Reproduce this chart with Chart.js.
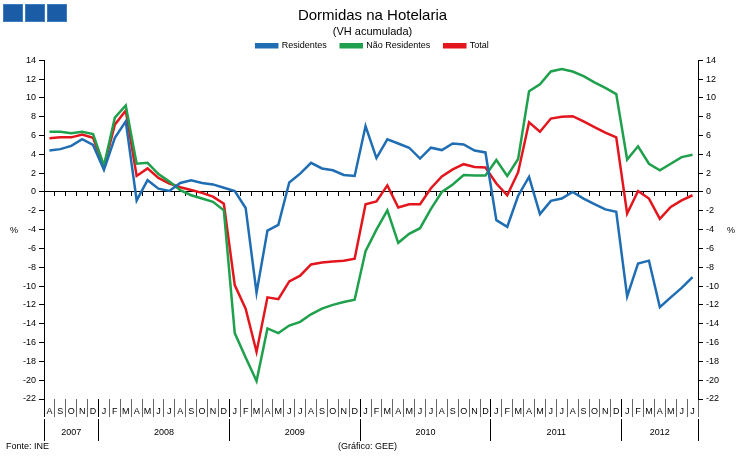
<!DOCTYPE html>
<html>
<head>
<meta charset="utf-8">
<script src="https://cdn.jsdelivr.net/npm/chart.js@4.4.1/dist/chart.umd.min.js"></script>
<style>
  html, body { margin: 0; padding: 0; background: #fff; }
  #wrap { position: relative; width: 745px; height: 457px; font-family: 'Liberation Sans', Arial, sans-serif; }
  #logo { position: absolute; left: 3px; top: 4px; font-size: 0; }
  #logo span { display: inline-block; width: 20px; height: 18px; background: #1a5ca5; margin-right: 2px; box-shadow: inset 0 0 0 1px #3f7dbf; }
  .note { position: absolute; font-size: 9px; color: #000; line-height: 10px; }
</style>
</head>
<body>
<div id="wrap">
  <canvas id="chart" width="745" height="457"></canvas>
  <div id="logo"><span></span><span></span><span></span></div>
  <div class="note" style="left:10px; top:225px;">%</div>
  <div class="note" style="left:727px; top:225px;">%</div>
  <div class="note" style="left:6px; top:441px;">Fonte: INE</div>
  <div class="note" style="left:338px; top:441px;">(Gráfico: GEE)</div>
</div>
<script>
// Aug 2007 .. Jul 2012
const months = [
  'A','S','O','N','D',
  'J','F','M','A','M','J','J','A','S','O','N','D',
  'J','F','M','A','M','J','J','A','S','O','N','D',
  'J','F','M','A','M','J','J','A','S','O','N','D',
  'J','F','M','A','M','J','J','A','S','O','N','D',
  'J','F','M','A','M','J','J'
];
const years = ['2007', '2008', '2009', '2010', '2011', '2012'];
const monthsPerYear = [5, 12, 12, 12, 12, 7];

const residentes = [
  4.4, 4.55, 4.9, 5.6, 5.0,
  2.35, 5.75, 7.5, -0.9, 1.25, 0.35, 0.1, 0.95, 1.25, 0.95, 0.8, 0.45,
  0.1, -1.7, -10.7, -4.1, -3.5, 1.0, 1.95, 3.1, 2.5, 2.3, 1.8, 1.7,
  7.0, 3.6, 5.6, 5.15, 4.7, 3.55, 4.7, 4.45, 5.15, 5.05, 4.4, 4.2,
  -3.0, -3.7, -0.4, 1.6, -2.35, -0.95, -0.7, 0.0, -0.7, -1.3, -1.85, -2.1,
  -11.1, -7.6, -7.3, -12.25, -11.2, -10.2, -9.05
];
const naoResidentes = [
  6.4, 6.4, 6.25, 6.4, 6.15,
  2.8, 7.9, 9.2, 3.0, 3.1, 1.9, 1.1, 0.2, -0.35, -0.7, -1.05, -1.95,
  -15.0, -17.6, -20.1, -14.5, -15.0, -14.2, -13.8, -13.0, -12.4, -12.0, -11.7, -11.45,
  -6.3, -4.0, -1.95, -5.4, -4.45, -3.85, -1.8, 0.0, 0.8, 1.8, 1.75, 1.75,
  3.4, 1.7, 3.5, 10.7, 11.45, 12.8, 13.05, 12.8, 12.3, 11.65, 11.05, 10.4,
  3.45, 4.85, 3.0, 2.3, 3.0, 3.7, 3.95
];
const total = [
  5.7, 5.8, 5.8, 6.1, 5.75,
  2.7, 7.15, 8.65, 1.7, 2.5, 1.5, 0.9, 0.5, 0.2, -0.1, -0.5, -1.25,
  -9.9, -12.4, -17.0, -11.2, -11.4, -9.5, -8.9, -7.7, -7.5, -7.4, -7.3, -7.1,
  -1.3, -1.0, 0.7, -1.65, -1.3, -1.3, 0.4, 1.65, 2.4, 2.95, 2.65, 2.6,
  0.9, -0.35, 2.1, 7.4, 6.4, 7.8, 8.0, 8.05, 7.5, 6.9, 6.3, 5.8,
  -2.3, 0.1, -0.7, -2.85, -1.6, -0.9, -0.35
];

// year boundaries (month index) and year label positions
const bounds = [0];
monthsPerYear.forEach(n => bounds.push(bounds[bounds.length - 1] + n));
const yearCenters = years.map((y, i) => (bounds[i] + bounds[i + 1]) / 2 - 0.5);
const yearTicks = bounds.map(b => b - 0.5).concat(yearCenters).sort((a, b) => a - b);

const font = 'Liberation Sans, Arial, sans-serif';
const small = { family: font, size: 9 };

function yAxis(pos, w) {
  return {
    position: pos,
    min: -22, max: 14,
    ticks: { stepSize: 2, font: small, color: '#000', padding: 3 },
    grid: { drawOnChartArea: false, tickLength: 5, color: '#000' },
    border: { color: '#000' },
    afterFit: s => { s.width = w; }
  };
}

new Chart(document.getElementById('chart'), {
  type: 'line',
  data: {
    labels: months,
    datasets: [
      { label: 'Residentes', data: residentes, borderColor: '#1f6db3', backgroundColor: '#1f6db3' },
      { label: 'Não Residentes', data: naoResidentes, borderColor: '#1fa04c', backgroundColor: '#1fa04c' },
      { label: 'Total', data: total, borderColor: '#e3161d', backgroundColor: '#e3161d' }
    ]
  },
  options: {
    responsive: false,
    animation: false,
    elements: { point: { radius: 0 }, line: { borderWidth: 2.5, tension: 0 } },
    layout: { padding: { top: 0, bottom: 16, left: 0, right: 0 } },
    plugins: {
      title: { display: true, text: 'Dormidas na Hotelaria', color: '#000',
        font: { family: font, size: 15, weight: 'normal' }, padding: { top: 7, bottom: 0 } },
      subtitle: { display: true, text: '(VH acumulada)', color: '#000',
        font: { family: font, size: 11 }, padding: { top: 0, bottom: -11 } },
      legend: {
        labels: { boxWidth: 21, boxHeight: 3, font: small, color: '#000', padding: 14 }
      },
      tooltip: { enabled: false }
    },
    scales: {
      x: {
        type: 'category',
        position: { y: 0 },
        offset: true,
        ticks: { display: false },
        grid: { drawOnChartArea: false, offset: true, tickLength: 4, color: '#000' },
        border: { color: '#000', width: 1 }
      },
      xm: {
        type: 'category',
        axis: 'x',
        labels: months,
        position: 'bottom',
        offset: true,
        ticks: { autoSkip: false, maxRotation: 0, font: small, color: '#000', padding: -11 },
        grid: {
          drawOnChartArea: false, offset: true, tickLength: 18,
          color: c => bounds.includes(c.index) ? '#000' : '#666'
        },
        border: { display: false },
        afterFit: s => { s.height = 20; }
      },
      xy: {
        type: 'linear',
        axis: 'x',
        position: 'bottom',
        min: -0.5, max: 59.5,
        afterBuildTicks: s => { s.ticks = yearTicks.map(v => ({ value: v })); },
        ticks: {
          autoSkip: false, maxRotation: 0, font: small, color: '#000', padding: -14,
          callback: v => { const k = yearCenters.indexOf(v); return k >= 0 ? years[k] : ''; }
        },
        grid: {
          drawOnChartArea: false, tickLength: 22,
          color: c => (c.tick && yearCenters.includes(c.tick.value)) ? 'rgba(0,0,0,0)' : '#000'
        },
        border: { display: false },
        afterFit: s => { s.height = 22; }
      },
      y: yAxis('left', 44),
      y2: yAxis('right', 47)
    }
  }
});
</script>
</body>
</html>
